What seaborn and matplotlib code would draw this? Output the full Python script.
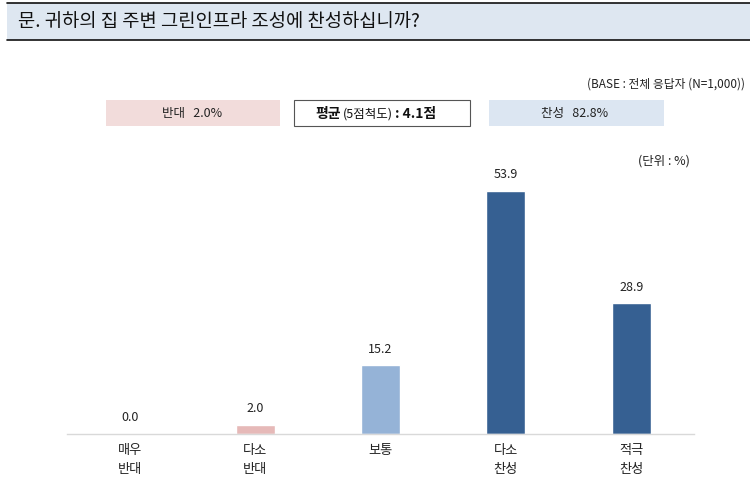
import matplotlib
matplotlib.use("Agg")
import matplotlib.pyplot as plt
from matplotlib.patches import Rectangle
import seaborn as sns
import pandas as pd

categories = ["매우\n반대", "다소\n반대", "보통", "다소\n찬성", "적극\n찬성"]
values = [0.0, 2.0, 15.2, 53.9, 28.9]
bar_colors = ["#E6B9B8", "#E6B9B8", "#95B3D7", "#366092", "#366092"]
title_text = "문. 귀하의 집 주변 그린인프라 조성에 찬성하십니까?"
base_text = "(BASE : 전체 응답자 (N=1,000))"
oppose_text = "반대   2.0%"
support_text = "찬성   82.8%"
unit_text = "(단위 : %)"

sns.set_theme(style="white")
plt.rcParams["font.family"] = ["Noto Sans CJK KR", "DejaVu Sans"]

W, H = 750, 490
fig = plt.figure(figsize=(W / 100, H / 100), dpi=100)

def fx(x):
    return x / W

def fy(y):
    return 1 - y / H

# axes placement (pixel coords)
ax_left, ax_right, ax_bottom, ax_top = 67, 694, 434, 154
ax = fig.add_axes([fx(ax_left), fy(ax_bottom), fx(ax_right - ax_left), (ax_bottom - ax_top) / H])

df = pd.DataFrame({"cat": categories, "val": values})
sns.barplot(data=df, x="cat", y="val", hue="cat", palette=bar_colors,
            legend=False, width=0.31, saturation=1, ax=ax)
ax.set_xlim(-0.5, 4.5)
ax.set_ylim(0, 62)
for s in ["top", "right", "left"]:
    ax.spines[s].set_visible(False)
ax.spines["bottom"].set_color("#D9D9D9")
ax.spines["bottom"].set_linewidth(1.0)
ax.set_yticks([])
ax.set_xlabel("")
ax.set_ylabel("")
ax.tick_params(axis="x", length=0, pad=7, labelsize=9.5, colors="#222222")
for lbl in ax.get_xticklabels():
    lbl.set_linespacing(1.6)
    lbl.set_verticalalignment("top")

for i, v in enumerate(values):
    ax.annotate(f"{v:.1f}", (i, v), xytext=(0, 7), textcoords="offset points",
                ha="center", va="bottom", fontsize=9, color="#222222")

# title band
fig.patches.append(Rectangle((fx(7), fy(40)), fx(750 - 7), (40 - 3) / H,
                             transform=fig.transFigure, facecolor="#DEE7F1",
                             edgecolor="none", zorder=0))
fig.add_artist(plt.Line2D([fx(7), 1], [fy(3), fy(3)], color="#111111", lw=1.2,
                          transform=fig.transFigure))
fig.add_artist(plt.Line2D([fx(7), 1], [fy(40), fy(40)], color="#111111", lw=1.2,
                          transform=fig.transFigure))
fig.text(fx(18), fy(22), title_text, ha="left", va="center", fontsize=13.5, color="#111111")

fig.text(fx(745), fy(84), base_text, ha="right", va="center", fontsize=8.5, color="#222222")

# summary boxes
fig.patches.append(Rectangle((fx(106), fy(126)), fx(174), 26 / H, transform=fig.transFigure,
                             facecolor="#F2DCDB", edgecolor="none"))
fig.text(fx(192), fy(114), oppose_text, ha="center", va="center", fontsize=9, color="#222222")

fig.patches.append(Rectangle((fx(294), fy(126)), fx(176), 26 / H, transform=fig.transFigure,
                             facecolor="white", edgecolor="#555555", lw=0.8))
fig.text(fx(315), fy(114), "평균", ha="left", va="center", fontsize=10,
         fontweight="bold", color="#111111")
fig.text(fx(343), fy(114), "(5점척도)", ha="left", va="center", fontsize=9, color="#111111")
fig.text(fx(395), fy(114), ": 4.1점", ha="left", va="center", fontsize=10,
         fontweight="bold", color="#111111")

fig.patches.append(Rectangle((fx(489), fy(126)), fx(175), 26 / H, transform=fig.transFigure,
                             facecolor="#DCE6F2", edgecolor="none"))
fig.text(fx(575), fy(114), support_text, ha="center", va="center", fontsize=9, color="#222222")

fig.text(fx(664), fy(161), unit_text, ha="center", va="center", fontsize=9, color="#222222")

fig.savefig("out.png", dpi=100)
